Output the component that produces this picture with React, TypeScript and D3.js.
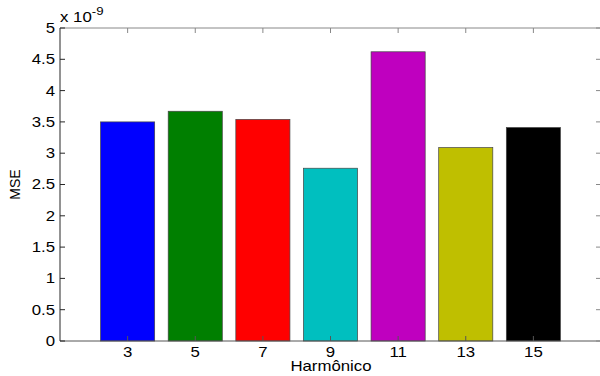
import React from "react";
import * as d3 from "d3";

const harmonics = [3, 5, 7, 9, 11, 13, 15];
const mseValues = [3.5, 3.67, 3.54, 2.76, 4.62, 3.09, 3.41];
const barColors = ["#0000ff", "#007f00", "#ff0000", "#00bfbf", "#bf00bf", "#bfbf00", "#000000"];
const yTicks = [0, 0.5, 1, 1.5, 2, 2.5, 3, 3.5, 4, 4.5, 5];

const SX = 1.2;

function HText(props: { x: number; y: number; anchor?: string; size?: number; children: React.ReactNode; dy?: string }) {
  return (
    <text transform={`translate(${props.x},${props.y}) scale(${SX},1)`} dy={props.dy} textAnchor={props.anchor || "start"}
      fontSize={props.size || 14} fill="#000">{props.children}</text>
  );
}

export default function App() {
  const W = 600, H = 376;
  const left = 60, right = 601, top = 28, bottom = 341;
  const x = d3.scaleLinear().domain([1, 17]).range([left, right]);
  const y = d3.scaleLinear().domain([0, 5]).range([bottom, top]);
  const bw = (x(2) - x(0)) * 0.8;
  const font = "'Liberation Sans', Arial, Helvetica, sans-serif";
  const axisColor = "#262626";
  return (
    <svg width={W} height={H} style={{ position: "absolute", left: 0, top: 0, background: "#fff" }} fontFamily={font}>
      {harmonics.map((h, i) => (
        <rect key={h} x={x(h) - bw / 2} y={y(mseValues[i])} width={bw} height={y(0) - y(mseValues[i])}
          fill={barColors[i]} stroke="#444" strokeWidth={0.7} />
      ))}
      <line x1={left} x2={right} y1={top} y2={top} stroke="#888" strokeWidth={1} />
      <line x1={left} x2={right} y1={bottom} y2={bottom} stroke="#555" strokeWidth={1} />
      <line x1={left} x2={left} y1={top} y2={bottom} stroke={axisColor} strokeWidth={1} />
      {yTicks.map((t) => (
        <g key={t}>
          <line x1={left} x2={left + 5} y1={y(t)} y2={y(t)} stroke={axisColor} />
          <line x1={right - 5} x2={right} y1={y(t)} y2={y(t)} stroke="#888" />
          <HText x={left - 5} y={y(t)} dy="0.35em" anchor="end">{t}</HText>
        </g>
      ))}
      {harmonics.map((h) => (
        <g key={h}>
          <line x1={x(h)} x2={x(h)} y1={bottom} y2={bottom - 5} stroke="#555" />
          <line x1={x(h)} x2={x(h)} y1={top} y2={top + 5} stroke="#888" />
          <HText x={x(h)} y={bottom + 16} anchor="middle">{h}</HText>
        </g>
      ))}
      <HText x={60} y={22}>x 10<tspan dy={-7} fontSize={11}>-9</tspan></HText>
      <text transform={`translate(20,${(top + bottom) / 2}) rotate(-90)`} textAnchor="middle" fontSize={14} fill="#000">MSE</text>
      <HText x={331} y={371} anchor="middle">Harmônico</HText>
    </svg>
  );
}
